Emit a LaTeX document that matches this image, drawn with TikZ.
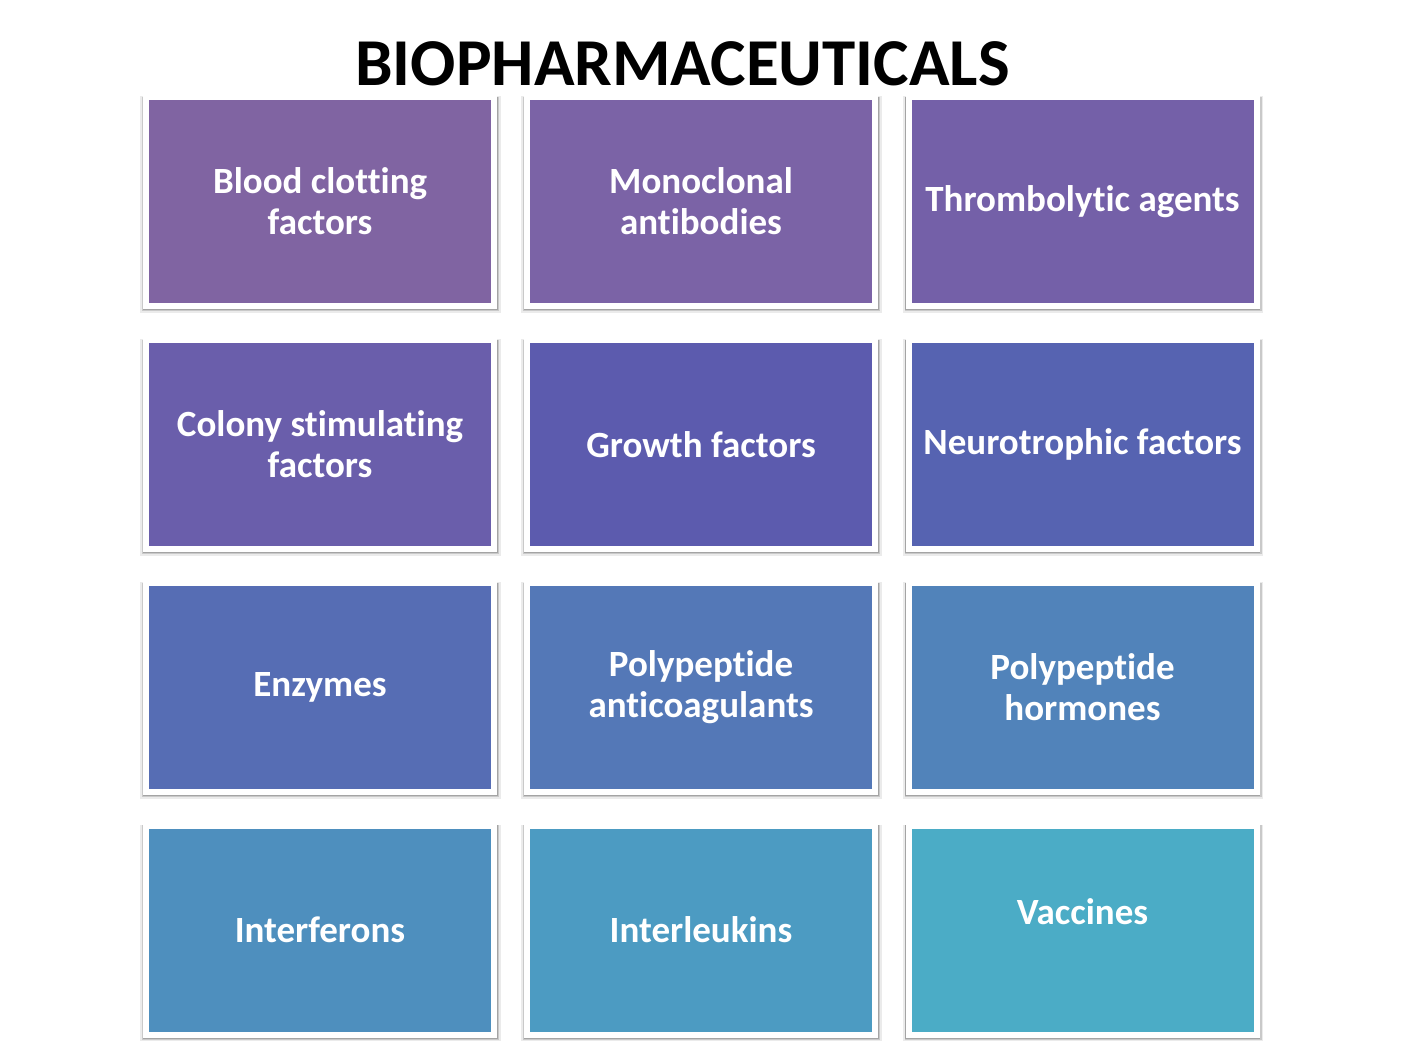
\documentclass[tikz,border=0pt]{standalone}
\usepackage{fontspec}
\setmainfont{Carlito}[Ligatures={NoCommon}]
\usetikzlibrary{shadows}
\definecolor{c1}{RGB}{128,100,162}
\definecolor{c2}{RGB}{123,99,166}
\definecolor{c3}{RGB}{116,96,168}
\definecolor{c4}{RGB}{106,94,171}
\definecolor{c5}{RGB}{92,91,174}
\definecolor{c6}{RGB}{86,99,177}
\definecolor{c7}{RGB}{86,109,180}
\definecolor{c8}{RGB}{84,120,183}
\definecolor{c9}{RGB}{81,131,186}
\definecolor{c10}{RGB}{78,143,190}
\definecolor{c11}{RGB}{76,155,194}
\definecolor{c12}{RGB}{75,172,198}
\tikzset{
  box/.style={rectangle, draw=white, line width=6pt, minimum width=348pt, minimum height=209pt,
    inner sep=0pt, align=center, text=white,
    font=\bfseries\fontsize{37}{41}\selectfont,
    general shadow={fill=black, opacity=0.08, shadow scale=1.036,
      shadow xshift=0.5pt, shadow yshift=-3pt},
    general shadow={fill=black, opacity=0.14, shadow scale=1.026,
      shadow xshift=0.5pt, shadow yshift=-2.5pt},
    general shadow={fill=black, opacity=0.18, shadow scale=1.02,
      shadow xshift=0.3pt, shadow yshift=-2pt}},
  boxtext/.style={text=white, align=center, font=\bfseries\fontsize{37}{41}\selectfont},
  title/.style={font=\bfseries\fontsize{67}{80}\selectfont, text=black, inner sep=0pt}
}
\begin{document}
\begin{tikzpicture}[x=1pt,y=-1pt]
\useasboundingbox (0,0) rectangle (1402,1048);
\fill[white] (0,0) rectangle (1402,1048);
\node[title, anchor=base] (t) at (682.5,86) {BIOPHARMACEUTICALS};
% columns centers: 320, 701, 1082.5 ; rows: 201.5, 444.5, 687.5, 930
\node[box, fill=c1] (b1) at (320,201.5) {Blood clotting\\factors};
\node[box, fill=c2] (b2) at (701,201.5) {Monoclonal\\antibodies};
\node[box, fill=c3] (b3) at (1082.5,201.5) {Thrombolytic agents};
\node[box, fill=c4] (b4) at (320,444.5) {Colony stimulating\\factors};
\node[box, fill=c5] (b5) at (701,444.5) {Growth factors};
\node[box, fill=c6] (b6) at (1082.5,444.5) {Neurotrophic factors};
\node[box, fill=c7] (b7) at (320,687.5) {Enzymes};
\node[box, fill=c8] (b8) at (701,687.5) {Polypeptide\\anticoagulants};
\node[box, fill=c9] (b9) at (1082.5,687.5) {Polypeptide\\hormones};
\node[box, fill=c10] (b10) at (320,930) {Interferons};
\node[box, fill=c11] (b11) at (701,930) {Interleukins};
\node[box, fill=c12] (b12) at (1082.5,930) {};
\node[boxtext] (v) at ([yshift=18pt]b12.center) {Vaccines};
\end{tikzpicture}
\end{document}
